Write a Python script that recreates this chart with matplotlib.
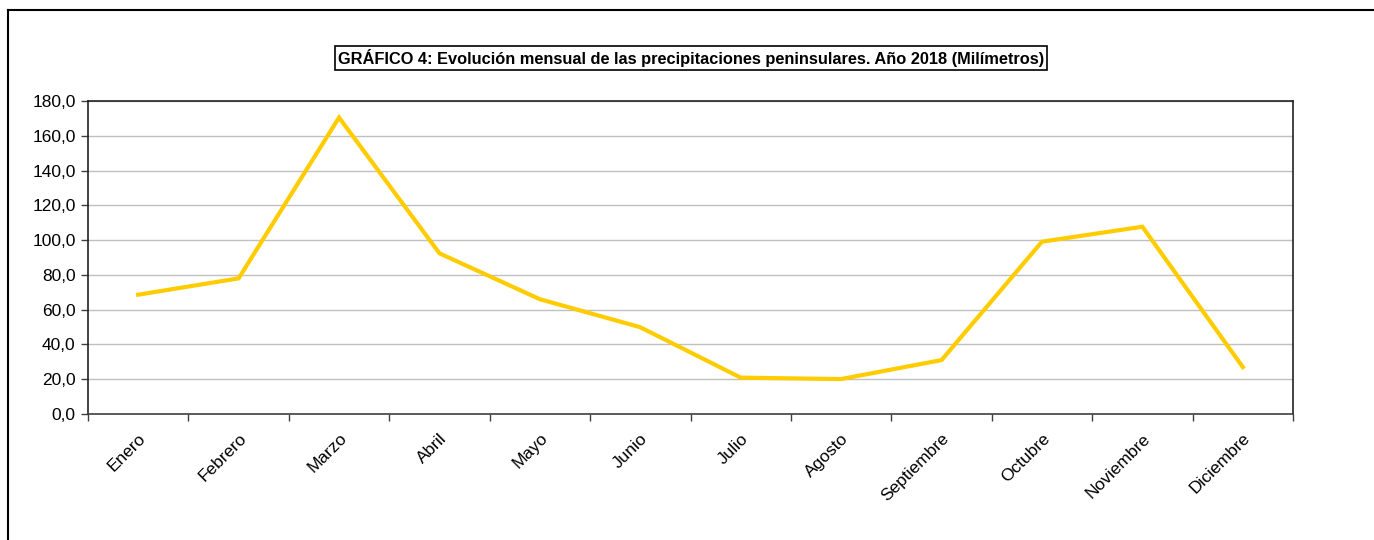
import matplotlib
matplotlib.use("Agg")
import matplotlib.pyplot as plt
from matplotlib.lines import Line2D
import numpy as np

plt.rcParams['font.family'] = ['Liberation Sans', 'DejaVu Sans']

meses = ['Enero', 'Febrero', 'Marzo', 'Abril', 'Mayo', 'Junio', 'Julio',
         'Agosto', 'Septiembre', 'Octubre', 'Noviembre', 'Diciembre']
precipitacion = [68.6, 78.0, 170.5, 92.4, 66.0, 49.9, 20.9, 20.1, 31.0, 99.1, 107.7, 27.0]
yticks = [0, 20, 40, 60, 80, 100, 120, 140, 160, 180]

fig = plt.figure(figsize=(13.74, 5.40), dpi=100)
ax = fig.add_axes([88/1374, 126/540, 1205/1374, 313/540])

x = np.arange(len(meses))
ax.plot(x, precipitacion, color='#FFCC00', linewidth=3.0, solid_joinstyle='miter')

ax.set_xlim(-0.5, len(meses) - 0.5)
ax.set_ylim(0, 180)
ax.set_yticks(yticks)
ax.set_yticklabels([('%.1f' % v).replace('.', ',') for v in yticks], fontsize=12.5)
ax.yaxis.grid(True, color='#c0c0c0', linewidth=1)
ax.set_axisbelow(True)

# category labels at centres, tick marks at boundaries
ax.set_xticks(x)
ax.set_xticklabels(meses, rotation=45, ha='right', rotation_mode='anchor', fontsize=12.5)
ax.tick_params(axis='x', which='major', length=0, pad=12)
ax.set_xticks(np.arange(-0.5, len(meses)), minor=True)
ax.tick_params(axis='x', which='minor', length=5, width=1, direction='out', color='#404040')
ax.tick_params(axis='y', length=5, width=1, color='#404040', pad=4)

for s in ax.spines.values():
    s.set_linewidth(1.2)
    s.set_color('#222222')
ax.spines['bottom'].set_color('#404040')

fig.text(691/1374, 1 - 58/540,
         'GRÁFICO 4: Evolución mensual de las precipitaciones peninsulares. Año 2018 (Milímetros)',
         ha='center', va='center', fontsize=11.8, fontweight='bold',
         bbox=dict(boxstyle='square,pad=0.2', facecolor='white', edgecolor='black', linewidth=1.2))

# outer chart border (only left and top visible)
fig.add_artist(Line2D([8/1374, 8/1374], [0, 1 - 10/540], color='black', linewidth=1.5))
fig.add_artist(Line2D([8/1374, 1], [1 - 10/540, 1 - 10/540], color='black', linewidth=1.5))

fig.savefig('out.png', dpi=100)
